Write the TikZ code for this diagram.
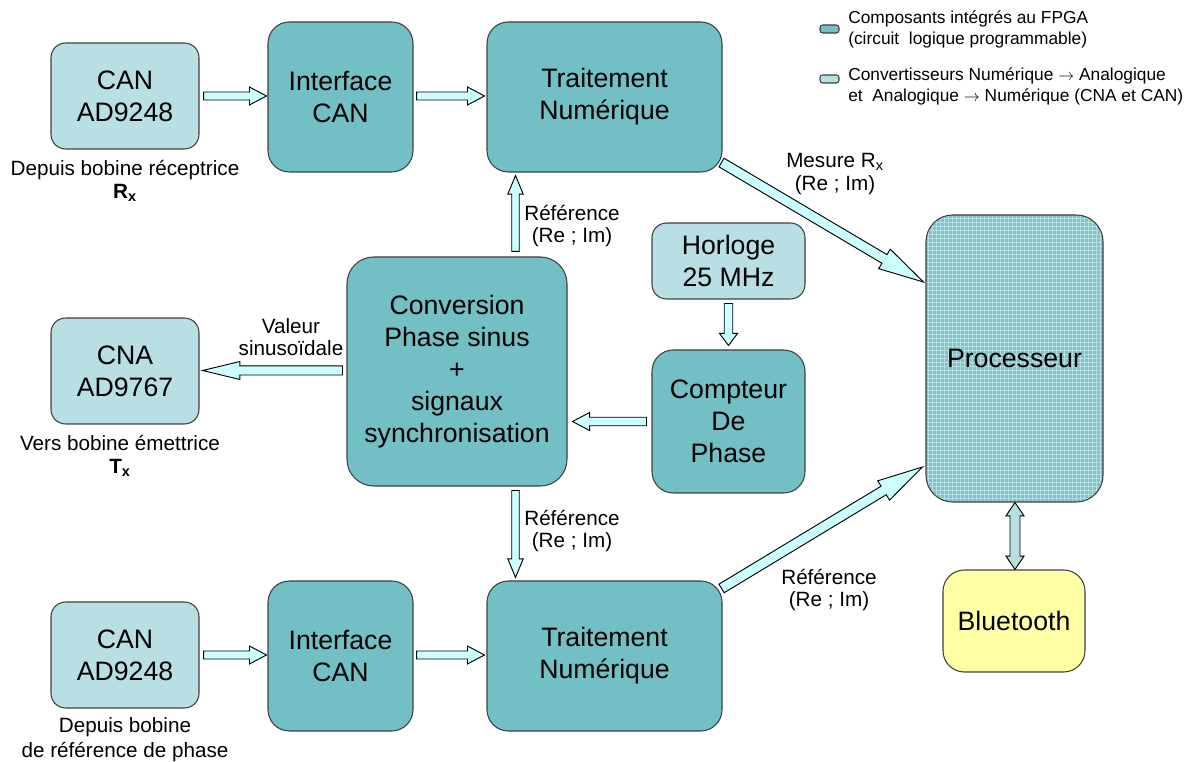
\documentclass[tikz,border=0pt]{standalone}
\usepackage{fontspec}
\setmainfont{Liberation Sans}
\usetikzlibrary{calc,patterns}
\definecolor{dark}{HTML}{72BFC5}
\definecolor{light}{HTML}{B8DFE3}
\definecolor{arrfill}{HTML}{CCFFFF}
\definecolor{btfill}{HTML}{FFFFA6}
\definecolor{edge}{HTML}{404040}
\definecolor{procfill}{HTML}{7CC4C9}
\definecolor{procgrid}{HTML}{B4DEE1}
\newcommand{\blockarr}[6][]{%
 \draw[arrstyle,#1] ($(#2)!#4!90:(#3)$) -- ($(#3)!#6!(#2)!#4!-90:(#2)$) -- ($(#3)!#6!(#2)!#5!-90:(#2)$) -- (#3) -- ($(#3)!#6!(#2)!#5!90:(#2)$) -- ($(#3)!#6!(#2)!#4!90:(#2)$) -- ($(#2)!#4!-90:(#3)$) -- cycle;}
\newcommand{\dblarr}[6][]{%
 \draw[arrstyle,#1] (#2) -- ($(#2)!#6!(#3)!#5!90:(#3)$) -- ($(#2)!#6!(#3)!#4!90:(#3)$) -- ($(#3)!#6!(#2)!#4!-90:(#2)$) -- ($(#3)!#6!(#2)!#5!-90:(#2)$) -- (#3) -- ($(#3)!#6!(#2)!#5!90:(#2)$) -- ($(#3)!#6!(#2)!#4!90:(#2)$) -- ($(#2)!#6!(#3)!#4!-90:(#3)$) -- ($(#2)!#6!(#3)!#5!-90:(#3)$) -- cycle;}
\begin{document}
\begin{tikzpicture}[x=0.75pt,y=-0.75pt,
  sz/.style 2 args={minimum width={#1*0.75pt}, minimum height={#2*0.75pt}},
  box/.style={draw=edge, line width=0.8pt, align=center, inner sep=0pt, font=\fontsize{20}{24}\selectfont},
  darkbox/.style={box, fill=dark, rounded corners=16pt},
  lightbox/.style={box, fill=light, rounded corners=11pt},
  lab/.style={align=center, inner sep=0pt, font=\fontsize{15.5}{17}\selectfont},
  leg/.style={align=left, anchor=west, inner sep=0pt, font=\fontsize{13}{15.75}\selectfont},
  legbox/.style={draw=edge, line width=0.8pt, rounded corners=2pt, sz={19}{8}, inner sep=0pt},
  arrstyle/.style={draw=black, line width=0.7pt, fill=arrfill, line join=miter}]
\useasboundingbox (0,0) rectangle (1200,762);
% boxes
\node[lightbox, sz={148}{106}] (can1) at (125,96) {CAN\\AD9248};
\node[darkbox, sz={145}{150}] (if1) at (340.5,97) {Interface\\CAN};
\node[darkbox, sz={235}{150}] (tr1) at (604.5,97) {Traitement\\Num\'erique};
\node[lightbox, sz={153}{76}] (hor) at (728.5,261) {Horloge\\25 MHz};
\node[darkbox, sz={220}{229}, rounded corners=20pt] (conv) at (457,371.5) {Conversion\\Phase sinus\\+\\signaux\\synchronisation};
\node[lightbox, sz={148}{106}] (cna) at (125,371) {CNA\\AD9767};
\node[darkbox, sz={153}{143}] (cpt) at (728.5,421.5) {Compteur\\De\\Phase};
\node[box, draw=none, sz={177}{287}, rounded corners=20pt, fill=procfill, postaction={pattern=grid, pattern color=procgrid}, postaction={draw=edge, line width=0.8pt}] (proc) at (1014.5,358.5) {Processeur};
\node[box, sz={142}{102}, rounded corners=16pt, fill=btfill] (bt) at (1014,621) {Bluetooth};
\node[lightbox, sz={148}{106}] (can2) at (125,655) {CAN\\AD9248};
\node[darkbox, sz={145}{150}] (if2) at (340.5,656) {Interface\\CAN};
\node[darkbox, sz={235}{150}] (tr2) at (604.5,656) {Traitement\\Num\'erique};
% labels
\node[lab] (l1) at (125,181) {Depuis bobine r\'eceptrice\\\textbf{R}\textsubscript{\textbf{x}}};
\node[lab] (l2) at (120,456) {Vers bobine \'emettrice\\\textbf{T}\textsubscript{\textbf{x}}};
\node[lab, font=\fontsize{15.5}{18.75}\selectfont] (l3) at (125,740) {Depuis bobine\\de r\'ef\'erence de phase};
\node[lab] (l4) at (835,174) {Mesure R\textsubscript{x}\\(Re ; Im)};
\node[lab] (l5) at (572,226) {R\'ef\'erence\\(Re ; Im)};
\node[lab] (l6) at (291,337) {Valeur\\sinuso\"idale};
\node[lab] (l7) at (572,531) {R\'ef\'erence\\(Re ; Im)};
\node[lab] (l8) at (829,590) {R\'ef\'erence\\(Re ; Im)};
% legend
\node[legbox, fill=dark] (lg1) at (829.5,29) {};
\node[leg] (lt1) at (848,29.5) {Composants int\'egr\'es au FPGA\\(circuit\ \ logique programmable)};
\node[legbox, fill=light] (lg2) at (829.5,79) {};
\node[leg] (lt2) at (848,86) {Convertisseurs Num\'erique $\rightarrow$ Analogique\\et\ \ Analogique $\rightarrow$ Num\'erique (CNA et CAN)};
% arrow end points
\coordinate (a1s) at ($(can1.east)+(4,0)$);
\coordinate (a1e) at ($(if1.west|-a1s)+(-1,0)$);
\coordinate (a2s) at ($(if1.east|-a1s)+(3,0)$);
\coordinate (a2e) at ($(tr1.west|-a1s)+(-2,0)$);
\coordinate (a3s) at ($(conv.north)+(58.5,-5)$);
\coordinate (a3e) at ($(tr1.south-|a3s)+(0,3)$);
\coordinate (a4s) at ($(conv.south)+(58.5,4)$);
\coordinate (a4e) at ($(tr2.north-|a4s)+(0,-3)$);
\coordinate (a5s) at ($(hor.south)+(0,4)$);
\coordinate (a5e) at ($(cpt.north)+(0,-4)$);
\coordinate (a6s) at ($(cpt.west)+(-5,0)$);
\coordinate (a6e) at ($(conv.east|-a6s)+(5,0)$);
\coordinate (a7s) at ($(conv.west)+(-4,-1)$);
\coordinate (a7e) at ($(cna.east|-a7s)+(3,0)$);
\coordinate (a8s) at ($(tr1.south east)+(-1,-10)$);
\coordinate (a8e) at ($(proc.west)+(-2,-76.5)$);
\coordinate (a9s) at ($(tr2.north east)+(-1,8)$);
\coordinate (a9e) at ($(proc.west)+(-3,108.5)$);
\coordinate (a10s) at ($(can2.east)+(4,0)$);
\coordinate (a10e) at ($(if2.west|-a10s)+(-1,0)$);
\coordinate (a11s) at ($(if2.east|-a10s)+(3,0)$);
\coordinate (a11e) at ($(tr2.west|-a10s)+(-2,0)$);
\coordinate (a12s) at ($(proc.south)+(0.5,0)$);
\coordinate (a12e) at ($(bt.north)+(1,0)$);
% arrows
\blockarr{a1s}{a1e}{3pt}{6.75pt}{12.75pt}
\blockarr{a2s}{a2e}{3pt}{6.75pt}{12.75pt}
\blockarr{a3s}{a3e}{2.8pt}{5.8pt}{14pt}
\blockarr{a4s}{a4e}{2.8pt}{5.8pt}{14pt}
\blockarr{a5s}{a5e}{3.2pt}{6.75pt}{9pt}
\blockarr{a6s}{a6e}{3.2pt}{6.75pt}{12.75pt}
\blockarr{a7s}{a7e}{3.4pt}{6.75pt}{28pt}
\blockarr{a8s}{a8e}{3.75pt}{8.5pt}{34pt}
\blockarr{a9s}{a9e}{3.75pt}{8.5pt}{34pt}
\blockarr{a10s}{a10e}{3pt}{6.75pt}{12.75pt}
\blockarr{a11s}{a11e}{3pt}{6.75pt}{12.75pt}
\dblarr[fill=light]{a12s}{a12e}{3.75pt}{6.75pt}{10pt}
\end{tikzpicture}
\end{document}
